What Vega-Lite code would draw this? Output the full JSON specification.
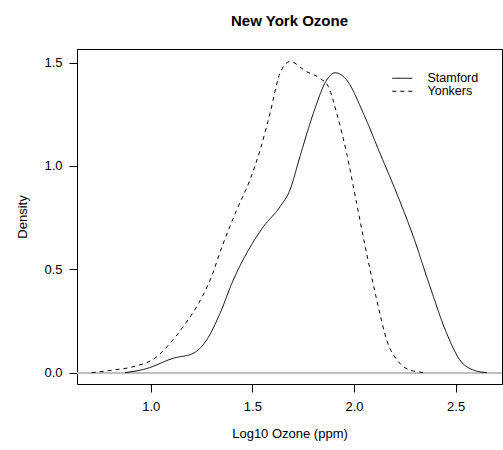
{
  "$schema": "https://vega.github.io/schema/vega-lite/v6.json",
  "width": 425,
  "height": 335,
  "autosize": {"type": "none"},
  "padding": {"left": 77, "top": 49, "right": 1, "bottom": 66},
  "background": "white",
  "config": {
    "font": "Liberation Sans",
    "view": {"stroke": "black", "strokeWidth": 1},
    "axis": {"grid": false, "domain": false, "tickColor": "black", "tickSize": 8, "labelColor": "black", "titleColor": "black", "labelFontSize": 13, "titleFontSize": 13, "titleFontWeight": "normal", "labelFont": "Liberation Sans", "titleFont": "Liberation Sans"},
    "title": {"font": "Liberation Sans", "fontSize": 15, "fontWeight": "bold", "color": "black", "offset": 20}
  },
  "title": {"text": "New York Ozone", "anchor": "middle"},
  "data": {"values": [
    {"series": "Stamford", "x": 0.874, "d": 0.0},
    {"series": "Stamford", "x": 0.98, "d": 0.02},
    {"series": "Stamford", "x": 1.111, "d": 0.07},
    {"series": "Stamford", "x": 1.21, "d": 0.094},
    {"series": "Stamford", "x": 1.275, "d": 0.158},
    {"series": "Stamford", "x": 1.341, "d": 0.287},
    {"series": "Stamford", "x": 1.406, "d": 0.448},
    {"series": "Stamford", "x": 1.472, "d": 0.578},
    {"series": "Stamford", "x": 1.554, "d": 0.706},
    {"series": "Stamford", "x": 1.636, "d": 0.803},
    {"series": "Stamford", "x": 1.685, "d": 0.884},
    {"series": "Stamford", "x": 1.734, "d": 1.045},
    {"series": "Stamford", "x": 1.8, "d": 1.255},
    {"series": "Stamford", "x": 1.866, "d": 1.416},
    {"series": "Stamford", "x": 1.907, "d": 1.451},
    {"series": "Stamford", "x": 1.964, "d": 1.416},
    {"series": "Stamford", "x": 2.046, "d": 1.255},
    {"series": "Stamford", "x": 2.128, "d": 1.061},
    {"series": "Stamford", "x": 2.21, "d": 0.868},
    {"series": "Stamford", "x": 2.292, "d": 0.658},
    {"series": "Stamford", "x": 2.374, "d": 0.416},
    {"series": "Stamford", "x": 2.456, "d": 0.19},
    {"series": "Stamford", "x": 2.521, "d": 0.061},
    {"series": "Stamford", "x": 2.587, "d": 0.013},
    {"series": "Stamford", "x": 2.653, "d": 0.0},
    {"series": "Yonkers", "x": 0.71, "d": 0.0},
    {"series": "Yonkers", "x": 0.816, "d": 0.013},
    {"series": "Yonkers", "x": 0.914, "d": 0.029},
    {"series": "Yonkers", "x": 1.03, "d": 0.077},
    {"series": "Yonkers", "x": 1.095, "d": 0.142},
    {"series": "Yonkers", "x": 1.16, "d": 0.223},
    {"series": "Yonkers", "x": 1.226, "d": 0.319},
    {"series": "Yonkers", "x": 1.292, "d": 0.448},
    {"series": "Yonkers", "x": 1.357, "d": 0.626},
    {"series": "Yonkers", "x": 1.423, "d": 0.787},
    {"series": "Yonkers", "x": 1.488, "d": 0.932},
    {"series": "Yonkers", "x": 1.538, "d": 1.077},
    {"series": "Yonkers", "x": 1.587, "d": 1.255},
    {"series": "Yonkers", "x": 1.636, "d": 1.449},
    {"series": "Yonkers", "x": 1.685, "d": 1.505},
    {"series": "Yonkers", "x": 1.767, "d": 1.456},
    {"series": "Yonkers", "x": 1.833, "d": 1.424},
    {"series": "Yonkers", "x": 1.874, "d": 1.384},
    {"series": "Yonkers", "x": 1.915, "d": 1.255},
    {"series": "Yonkers", "x": 1.964, "d": 1.061},
    {"series": "Yonkers", "x": 2.013, "d": 0.819},
    {"series": "Yonkers", "x": 2.062, "d": 0.578},
    {"series": "Yonkers", "x": 2.112, "d": 0.352},
    {"series": "Yonkers", "x": 2.161, "d": 0.158},
    {"series": "Yonkers", "x": 2.226, "d": 0.045},
    {"series": "Yonkers", "x": 2.292, "d": 0.008},
    {"series": "Yonkers", "x": 2.357, "d": 0.0}
  ]},
  "layer": [
    {
      "mark": {"type": "rule", "color": "#bebebe", "strokeWidth": 1},
      "encoding": {"y": {"datum": 0, "type": "quantitative", "scale": {"domain": [-0.0547, 1.566]}}}
    },
    {
      "mark": {"type": "line", "interpolate": "monotone", "color": "black", "strokeWidth": 1, "clip": true},
      "encoding": {
        "x": {"field": "x", "type": "quantitative", "scale": {"domain": [0.6375, 2.728], "nice": false, "zero": false},
              "axis": {"values": [1.0, 1.5, 2.0, 2.5], "format": ".1f", "labelPadding": 8, "titlePadding": 14, "title": "Log10 Ozone (ppm)"}},
        "y": {"field": "d", "type": "quantitative", "scale": {"domain": [-0.0547, 1.566], "nice": false, "zero": false},
              "axis": {"values": [0, 0.5, 1.0, 1.5], "format": ".1f", "labelPadding": 7, "titlePadding": 14, "title": "Density"}},
        "strokeDash": {"field": "series", "type": "nominal",
          "scale": {"domain": ["Stamford", "Yonkers"], "range": [[1, 0], [4, 4]]},
          "legend": {"title": null, "orient": "none", "legendX": 319, "legendY": 23, "padding": 0,
            "symbolType": "M-2,0L2,0", "symbolSize": 100, "symbolStrokeWidth": 1, "symbolStrokeColor": "black",
            "labelFontSize": 12.5, "labelOffset": 19, "labelColor": "black", "rowPadding": -8}}
      }
    }
  ]
}
